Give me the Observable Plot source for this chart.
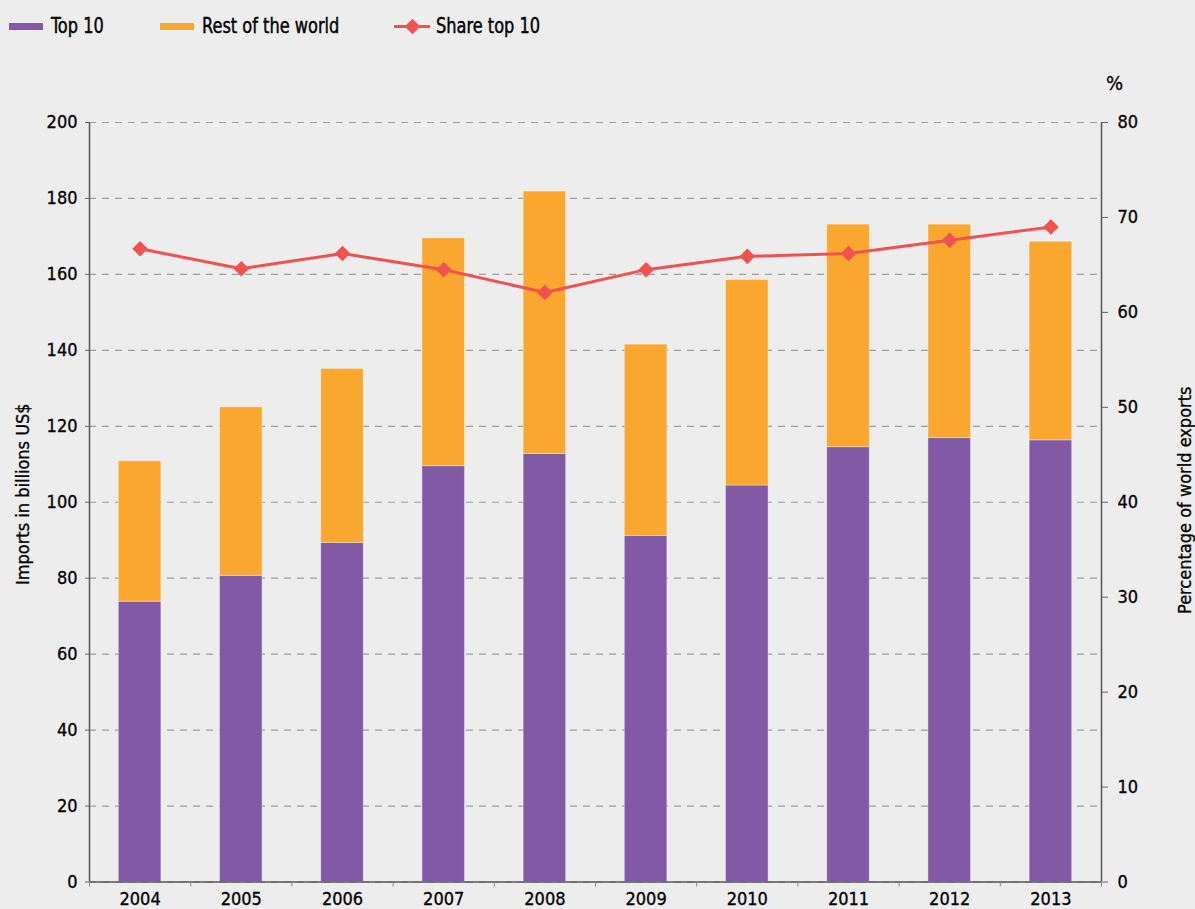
<!DOCTYPE html>
<html>
<head>
<meta charset="utf-8">
<script src="https://cdn.jsdelivr.net/npm/d3@7"></script>
<script src="https://cdn.jsdelivr.net/npm/@observablehq/plot@0.6"></script>
<style>
  html, body { margin: 0; padding: 0; background: #ededed; }
  body { width: 1195px; height: 909px; overflow: hidden; font-family: "DejaVu Sans Condensed", sans-serif; color: #000; }
  #legend { position: relative; height: 50px; }
  .sw { position: absolute; top: 23px; width: 34px; height: 7px; }
  .lbl { position: absolute; top: 11.5px; height: 28px; line-height: 28px; font-family: "DejaVu Sans Condensed", sans-serif; font-size: 18px; -webkit-text-stroke: 0.35px #000; white-space: nowrap; transform: scaleY(1.14); transform-origin: 0 50%; }
  .lsw { position: absolute; top: 24.5px; left: 394px; width: 36px; height: 3px; background: #f05252; }
  .dia { position: absolute; top: 20.5px; left: 406.5px; width: 11px; height: 11px; background: #f05252; transform: rotate(45deg); }
  #chart svg { display: block; }
  #chart svg text { stroke: #000; stroke-width: 0.3px; paint-order: stroke; }
</style>
</head>
<body>
<div id="legend">
  <span class="sw" style="left:9px;background:#8259a5"></span><span class="lbl" style="left:51px">Top 10</span>
  <span class="sw" style="left:160px;background:#f9a72f"></span><span class="lbl" style="left:202px">Rest of the world</span>
  <span class="lsw"></span><span class="dia"></span><span class="lbl" style="left:436px">Share top 10</span>
</div>
<div id="chart"></div>
<script>
const years = [2004, 2005, 2006, 2007, 2008, 2009, 2010, 2011, 2012, 2013];
const top10 = [73.8, 80.6, 89.3, 109.5, 112.7, 91.1, 104.4, 114.5, 116.9, 116.3];
const restOfWorld = [37.0, 44.4, 45.8, 60.0, 69.1, 50.4, 54.1, 58.6, 56.2, 52.3];
const shareTop10 = [66.7, 64.6, 66.2, 64.5, 62.1, 64.5, 65.9, 66.2, 67.6, 69.0];
const leftTicks = [0, 20, 40, 60, 80, 100, 120, 140, 160, 180, 200];
const rightTicks = [0, 10, 20, 30, 40, 50, 60, 70, 80];
const seriesNames = ["Top 10", "Rest of the world"];
const seriesColors = ["#8259a5", "#f9a72f"];
const lineColor = "#f05252";

const ratio = 200 / 80; // right axis (0-80 %) mapped onto left axis (0-200)
const xDomain = [years[0] - 0.5, years[years.length - 1] + 0.5];
const boundaries = d3.range(years.length + 1).map(i => xDomain[0] + i);
const halfBar = 0.21;

const stacked = years.flatMap((yr, i) => [
  {year: yr, series: seriesNames[0], y1: 0, y2: top10[i]},
  {year: yr, series: seriesNames[1], y1: top10[i], y2: top10[i] + restOfWorld[i]}
]);
const share = years.map((yr, i) => ({year: yr, share: shareTop10[i]}));

const plot = Plot.plot({
  width: 1195,
  height: 859,
  marginTop: 72,
  marginBottom: 27.5,
  marginLeft: 89,
  marginRight: 94,
  style: {background: "#ededed", fontSize: "18px", fontFamily: '"DejaVu Sans Condensed", sans-serif', color: "#000"},
  x: {domain: xDomain},
  y: {domain: [0, 200]},
  color: {domain: seriesNames, range: seriesColors},
  marks: [
    Plot.gridY(leftTicks, {stroke: "#8a8a8a", strokeOpacity: 0.8, strokeDasharray: "7,6", strokeWidth: 1.2}),
    Plot.rectY(stacked, {
      x1: d => d.year - halfBar, x2: d => d.year + halfBar,
      y1: "y1", y2: "y2", fill: "series",
      stroke: "#ffffff", strokeOpacity: 0.35, strokeWidth: 1
    }),
    Plot.line(share, {x: "year", y: d => d.share * ratio, stroke: lineColor, strokeWidth: 3}),
    Plot.dot(share, {x: "year", y: d => d.share * ratio, symbol: "diamond2", r: 7, fill: lineColor, stroke: "none"}),
    Plot.ruleX([xDomain[0], xDomain[1]], {stroke: "#555", strokeWidth: 1.5}),
    Plot.ruleY([0], {stroke: "#555", strokeWidth: 1.5}),
    Plot.axisY(leftTicks, {anchor: "left", tickSize: 4, tickPadding: 8, label: null, stroke: "#666"}),
    Plot.axisY(rightTicks.map(v => v * ratio), {anchor: "right", tickSize: 6, tickPadding: 10, tickFormat: d => String(Math.round(d / ratio)), label: null, stroke: "#666"}),
    Plot.axisX(boundaries, {tickSize: 5, tickFormat: () => "", label: null, stroke: "#888"}),
    Plot.axisX(years, {tickSize: 0, tickPadding: 10, tickFormat: d => String(d), label: null}),
    Plot.text(["Imports in billions US$"], {frameAnchor: "left", textAnchor: "middle", lineAnchor: "middle", rotate: -90, dx: -66, dy: -8, fontSize: 18, fill: "#000"}),
    Plot.text(["Percentage of world exports"], {frameAnchor: "right", textAnchor: "middle", lineAnchor: "middle", rotate: -90, dx: 84, dy: -2, fontSize: 18, fill: "#000"}),
    Plot.text(["%"], {frameAnchor: "top-right", textAnchor: "middle", lineAnchor: "middle", dx: 13, dy: -39, fontSize: 20, fill: "#000"})
  ]
});
document.getElementById("chart").appendChild(plot);
</script>
</body>
</html>
